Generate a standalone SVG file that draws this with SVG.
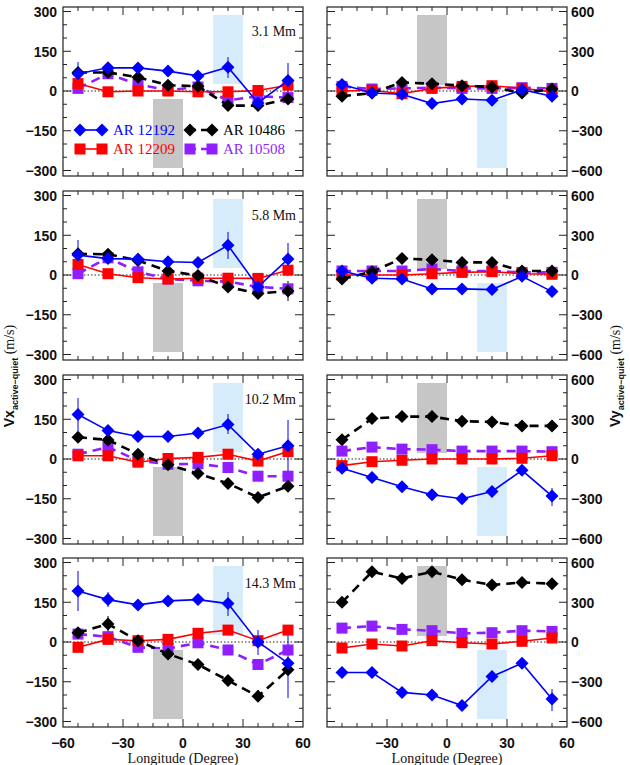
<svg xmlns="http://www.w3.org/2000/svg" width="630" height="765" viewBox="0 0 630 765">
<style>
.fr{fill:none;stroke:#222;stroke-width:1.2}
.tk{fill:none;stroke:#222;stroke-width:1}
.z{stroke:#222;stroke-width:1;stroke-dasharray:1.5 2}
.gs{fill:#c6c6c6}
.bs{fill:#d6ecfb}
.lb{stroke:#0000ff;stroke-width:1.6;fill:none;marker-start:url(#mb);marker-mid:url(#mb);marker-end:url(#mb)}
.lk{stroke:#000;stroke-width:2.6;stroke-dasharray:9 6;fill:none;marker-start:url(#mk);marker-mid:url(#mk);marker-end:url(#mk)}
.lr{stroke:#ff0000;stroke-width:1.6;fill:none;marker-start:url(#mr);marker-mid:url(#mr);marker-end:url(#mr)}
.lp{stroke:#8f1fff;stroke-width:2.6;stroke-dasharray:9 6;fill:none;marker-start:url(#mp);marker-mid:url(#mp);marker-end:url(#mp)}
.eb{stroke:#0000ff;stroke-width:1;fill:none}
.ek{stroke:#000;stroke-width:1;fill:none}
.nl{font-family:"Liberation Sans",Arial,sans-serif;font-weight:bold;font-size:14px;fill:#111}
.dl{font-family:"Liberation Serif","DejaVu Serif",serif;font-size:14px;fill:#111}
.lg{font-family:"Liberation Serif","DejaVu Serif",serif;font-size:15px}
</style>
<defs>
<marker id="mb" viewBox="-7 -7 14 14" markerWidth="14" markerHeight="14" markerUnits="userSpaceOnUse" refX="0" refY="0"><path d="M0-6.5L6.5 0 0 6.5-6.5 0z" fill="#0000ff"/></marker>
<marker id="mk" viewBox="-7 -7 14 14" markerWidth="14" markerHeight="14" markerUnits="userSpaceOnUse" refX="0" refY="0"><path d="M0-6.5L6.5 0 0 6.5-6.5 0z" fill="#000"/></marker>
<marker id="mr" viewBox="-7 -7 14 14" markerWidth="14" markerHeight="14" markerUnits="userSpaceOnUse" refX="0" refY="0"><rect x="-5.5" y="-5.5" width="11" height="11" fill="#ff0000"/></marker>
<marker id="mp" viewBox="-7 -7 14 14" markerWidth="14" markerHeight="14" markerUnits="userSpaceOnUse" refX="0" refY="0"><rect x="-5.5" y="-5.5" width="11" height="11" fill="#8f1fff"/></marker>
<path id="ticks" d="M15 169v-4M30 169v-4M45 169v-4M60 169v-8M75 169v-4M90 169v-4M105 169v-4M120 169v-8M135 169v-4M150 169v-4M165 169v-4M180 169v-8M195 169v-4M210 169v-4M225 169v-4M15 0v4M30 0v4M45 0v4M60 0v8M75 0v4M90 0v4M105 0v4M120 0v8M135 0v4M150 0v4M165 0v4M180 0v8M195 0v4M210 0v4M225 0v4M0 4.5h8M0 17.75h4M0 31h4M0 44.25h8M0 57.5h4M0 70.75h4M0 84h8M0 97.25h4M0 110.5h4M0 123.75h8M0 137h4M0 150.25h4M0 163.5h8M240 4.5h-8M240 17.75h-4M240 31h-4M240 44.25h-8M240 57.5h-4M240 70.75h-4M240 84h-8M240 97.25h-4M240 110.5h-4M240 123.75h-8M240 137h-4M240 150.25h-4M240 163.5h-8"/>
<g id="lframe"><rect class="fr" x="0" y="0" width="240" height="169"/><use href="#ticks" class="tk"/><line class="z" x1="0" y1="84" x2="240" y2="84"/></g>
</defs>

<!-- Row 1 -->
<g id="vx1">
<rect class="gs" x="153" y="99" width="30" height="69"/><rect class="bs" x="213" y="15" width="30" height="69"/>
<use href="#lframe" x="63" y="7"/>
<text class="dl" x="296" y="36" text-anchor="end">3.1 Mm</text>
<path class="eb" d="M78 62v24M228 57v21M288 63v35"/>
<polyline class="lp" points="78,88.4 108,73.8 138,84.4 168,90.2 198,87 228,100.3 258,96.3 288,97.6"/>
<polyline class="lr" points="78,83.6 108,91.8 138,91 168,91 198,91.8 228,91.8 258,90.5 288,85.2"/>
<polyline class="lk" points="78,72.5 108,72.5 138,77.2 168,85.2 198,86.2 228,105.6 258,105.6 288,99"/>
<polyline class="lb" points="78,73.8 108,67.7 138,67.9 168,71.1 198,75.9 228,67.2 258,102.9 288,80.4"/>
<g id="legend">
<line x1="80" y1="130" x2="102" y2="130" stroke="#0000ff" stroke-width="1.6" marker-start="url(#mb)" marker-end="url(#mb)"/>
<text class="lg" x="113" y="135" fill="#0000ff">AR 12192</text>
<line x1="80" y1="149" x2="102" y2="149" stroke="#ff0000" stroke-width="1.6" marker-start="url(#mr)" marker-end="url(#mr)"/>
<text class="lg" x="113" y="154" fill="#ff0000">AR 12209</text>
<line x1="190" y1="130" x2="212" y2="130" stroke="#000" stroke-width="2.6" stroke-dasharray="6 5" marker-start="url(#mk)" marker-end="url(#mk)"/>
<text class="lg" x="223" y="135" fill="#000">AR 10486</text>
<line x1="190" y1="149" x2="212" y2="149" stroke="#8f1fff" stroke-width="2.6" stroke-dasharray="6 5" marker-start="url(#mp)" marker-end="url(#mp)"/>
<text class="lg" x="223" y="154" fill="#8f1fff">AR 10508</text>
</g>
</g>
<g id="vy1">
<rect class="gs" x="417" y="15" width="30" height="70"/><rect class="bs" x="477" y="99" width="30" height="69"/>
<use href="#lframe" x="327" y="7"/>
<polyline class="lp" points="342,86.4 372,89 402,88.4 432,87.7 462,88.4 492,88.4 522,87.7 552,88.4"/>
<polyline class="lr" points="342,91 372,90.3 402,93.7 432,88.4 462,86.4 492,85.7 522,88.4 552,91.7"/>
<polyline class="lk" points="342,96.3 372,93 402,82.4 432,83.7 462,85.7 492,87 522,93 552,89"/>
<polyline class="lb" points="342,84.4 372,93 402,94.3 432,103.6 462,99 492,100.3 522,89.7 552,96.3"/>
</g>

<!-- Row 2 -->
<g id="vx2">
<rect class="gs" x="153" y="283" width="30" height="69"/><rect class="bs" x="213" y="199" width="30" height="69"/>
<use href="#lframe" x="63" y="191"/>
<text class="dl" x="296" y="220" text-anchor="end">5.8 Mm</text>
<path class="eb" d="M78 240v30M228 232v27M288 243v33"/>
<path class="ek" d="M288 281v20"/>
<polyline class="lp" points="78,273.7 108,257.8 138,271.8 168,279 198,280.8 228,281.6 258,286.9 288,288.8"/>
<polyline class="lr" points="78,264.4 108,273.7 138,277.7 168,279 198,278.2 228,278.2 258,278.4 288,270.2"/>
<polyline class="lk" points="78,253.8 108,254.3 138,260.4 168,271 198,275.5 228,286.9 258,293.6 288,290.9"/>
<polyline class="lb" points="78,255.1 108,258.6 138,259.1 168,261.8 198,262.5 228,245.3 258,286.9 288,259.1"/>
</g>
<g id="vy2">
<rect class="gs" x="417" y="199" width="30" height="70"/><rect class="bs" x="477" y="283" width="30" height="69"/>
<use href="#lframe" x="327" y="191"/>
<polyline class="lp" points="342,271 372,271 402,271 432,269 462,271 492,271 522,272.4 552,272.4"/>
<polyline class="lr" points="342,275 372,275 402,275 432,273.7 462,272.4 492,271.7 522,273.7 552,274.3"/>
<polyline class="lk" points="342,279 372,271.7 402,258.4 432,259.8 462,262.4 492,262.4 522,271 552,271"/>
<polyline class="lb" points="342,271 372,278.3 402,279 432,288.9 462,288.9 492,289.6 522,276.3 552,291.6"/>
</g>

<!-- Row 3 -->
<g id="vx3">
<rect class="gs" x="153" y="467" width="30" height="69"/><rect class="bs" x="213" y="383" width="30" height="69"/>
<use href="#lframe" x="63" y="375"/>
<text class="dl" x="296" y="404" text-anchor="end">10.2 Mm</text>
<path class="eb" d="M78 398v33M228 414v20M258 450v9M288 420v52"/>
<polyline class="lp" points="78,454.2 108,447.1 138,460.6 168,464.3 198,463.8 228,467.5 258,476.2 288,476.2"/>
<polyline class="lr" points="78,455.8 108,455.8 138,462.2 168,458.5 198,457.4 228,454.2 258,461.1 288,451.6"/>
<polyline class="lk" points="78,437.3 108,439.9 138,454.2 168,464.8 198,473.6 228,483.4 258,497.4 288,486.3"/>
<polyline class="lb" points="78,414.5 108,430.6 138,436.5 168,436.5 198,433 228,424.6 258,454.2 288,445.8"/>
</g>
<g id="vy3">
<rect class="gs" x="417" y="383" width="30" height="70"/><rect class="bs" x="477" y="467" width="30" height="69"/>
<use href="#lframe" x="327" y="375"/>
<path class="eb" d="M522 465v11M552 488v18"/>
<polyline class="lp" points="342,451.1 372,447.1 402,449.1 432,449.7 462,451.1 492,451.1 522,451.1 552,451.7"/>
<polyline class="lr" points="342,465.6 372,461.7 402,460.3 432,459 462,459 492,459 522,458.3 552,455.7"/>
<polyline class="lk" points="342,439.8 372,418.6 402,416.6 432,416.6 462,421.2 492,421.9 522,425.9 552,425.9"/>
<polyline class="lb" points="342,468.3 372,477.6 402,486.8 432,494.8 462,498.8 492,491.5 522,470.3 552,496.1"/>
</g>

<!-- Row 4 -->
<g id="vx4">
<rect class="gs" x="153" y="650" width="30" height="69"/><rect class="bs" x="213" y="566" width="30" height="69"/>
<use href="#lframe" x="63" y="558"/>
<text class="dl" x="296" y="588" text-anchor="end">14.3 Mm</text>
<path class="eb" d="M78 571v40M108 592v15M228 592v24M258 630v25M288 628v70"/>
<path class="ek" d="M108 616v16M258 690v12"/>
<polyline class="lp" points="78,634.1 108,636.7 138,647.3 168,648.6 198,642.8 228,650 258,664.5 288,650"/>
<polyline class="lr" points="78,647.3 108,639.4 138,640.7 168,639.4 198,633.3 228,630.1 258,640.7 288,630.1"/>
<polyline class="lk" points="78,632.7 108,624 138,640.7 168,653.9 198,664.5 228,680.4 258,696.3 288,669.8"/>
<polyline class="lb" points="78,591.1 108,599.6 138,604.9 168,600.9 198,599.6 228,603.6 258,642 288,663.2"/>
</g>
<g id="vy4">
<rect class="gs" x="417" y="566" width="30" height="70"/><rect class="bs" x="477" y="650" width="30" height="69"/>
<use href="#lframe" x="327" y="558"/>
<path class="eb" d="M552 689v22"/>
<polyline class="lp" points="342,628.1 372,626.1 402,629.4 432,630.7 462,633.4 492,632.7 522,630.7 552,631.4"/>
<polyline class="lr" points="342,648 372,644 402,646 432,640.7 462,642.7 492,644 522,641.3 552,638"/>
<polyline class="lk" points="342,602.3 372,571.8 402,578.4 432,571.8 462,579.7 492,585 522,582.4 552,583.7"/>
<polyline class="lb" points="342,672.5 372,672.5 402,692.4 432,695 462,705.6 492,676.5 522,663.2 552,699"/>
</g>

<!-- Axis labels -->
<g id="yleft" class="nl" text-anchor="end">
<text x="57" y="17">300</text><text x="57" y="57">150</text><text x="57" y="96">0</text><text x="57" y="136">−150</text><text x="57" y="176">−300</text>
<text x="57" y="201">300</text><text x="57" y="241">150</text><text x="57" y="280">0</text><text x="57" y="320">−150</text><text x="57" y="360">−300</text>
<text x="57" y="385">300</text><text x="57" y="425">150</text><text x="57" y="464">0</text><text x="57" y="504">−150</text><text x="57" y="544">−300</text>
<text x="57" y="568">300</text><text x="57" y="608">150</text><text x="57" y="647">0</text><text x="57" y="687">−150</text><text x="57" y="727">−300</text>
</g>
<g id="yright" class="nl" text-anchor="start">
<text x="571" y="17">600</text><text x="571" y="57">300</text><text x="571" y="96">0</text><text x="571" y="136">−300</text><text x="571" y="176">−600</text>
<text x="571" y="201">600</text><text x="571" y="241">300</text><text x="571" y="280">0</text><text x="571" y="320">−300</text><text x="571" y="360">−600</text>
<text x="571" y="385">600</text><text x="571" y="425">300</text><text x="571" y="464">0</text><text x="571" y="504">−300</text><text x="571" y="544">−600</text>
<text x="571" y="568">600</text><text x="571" y="608">300</text><text x="571" y="647">0</text><text x="571" y="687">−300</text><text x="571" y="727">−600</text>
</g>
<g id="xlabels" class="nl" text-anchor="middle">
<text x="63" y="748">−60</text><text x="123" y="748">−30</text><text x="183" y="748">0</text><text x="243" y="748">30</text><text x="303" y="748">60</text>
<text x="387" y="748">−30</text><text x="447" y="748">0</text><text x="507" y="748">30</text><text x="567" y="748">60</text>
</g>
<text class="dl" x="183" y="763" text-anchor="middle">Longitude (Degree)</text>
<text class="dl" x="447" y="763" text-anchor="middle">Longitude (Degree)</text>
<text transform="translate(14,376) rotate(-90)" text-anchor="middle" font-family="Liberation Sans,Arial,sans-serif" font-weight="bold" font-size="14" fill="#111">Vx<tspan font-size="9" dy="4">active−quiet</tspan><tspan dy="-4" font-family="Liberation Serif,serif" font-weight="normal"> (m/s)</tspan></text>
<text transform="translate(620,376) rotate(-90)" text-anchor="middle" font-family="Liberation Sans,Arial,sans-serif" font-weight="bold" font-size="14" fill="#111">Vy<tspan font-size="9" dy="4">active−quiet</tspan><tspan dy="-4" font-family="Liberation Serif,serif" font-weight="normal"> (m/s)</tspan></text>
</svg>
